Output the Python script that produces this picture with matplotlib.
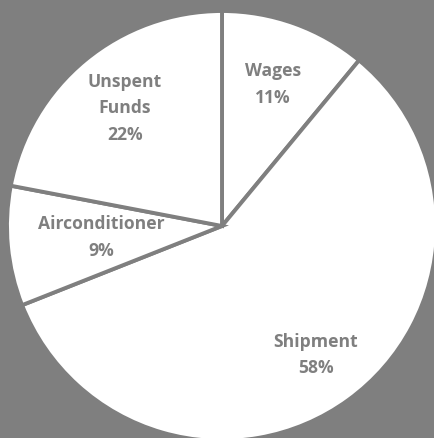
import matplotlib
matplotlib.use("Agg")
import matplotlib.pyplot as plt
import numpy as np

labels = ["Wages", "Shipment", "Airconditioner", "Unspent\nFunds"]
shares = [11, 58, 9, 22]
label_dist = [0.70, 0.74, 0.565, 0.71]

gray = "#7f7f7f"

fig = plt.figure(figsize=(4.35, 4.38), dpi=100)
fig.patch.set_facecolor(gray)
ax = fig.add_axes([7 / 435, -3 / 438, 430 / 435, 430 / 438])
ax.set_facecolor(gray)

wedges, _ = ax.pie(shares, startangle=90, counterclock=False, radius=1,
                   colors=["white"] * len(shares),
                   wedgeprops=dict(edgecolor=gray, linewidth=2.8))

for w, lab, val, d in zip(wedges, labels, shares, label_dist):
    mid = np.deg2rad((w.theta1 + w.theta2) / 2)
    ax.text(d * np.cos(mid), d * np.sin(mid), "%s\n%d%%" % (lab, val),
            ha="center", va="center", color=gray, fontsize=12.6,
            fontweight="bold", family="Open Sans", linespacing=1.6)

ax.set_xlim(-1, 1)
ax.set_ylim(-1, 1)
ax.set_aspect("auto")
ax.axis("off")
fig.savefig("out.png", dpi=100, facecolor=gray)
